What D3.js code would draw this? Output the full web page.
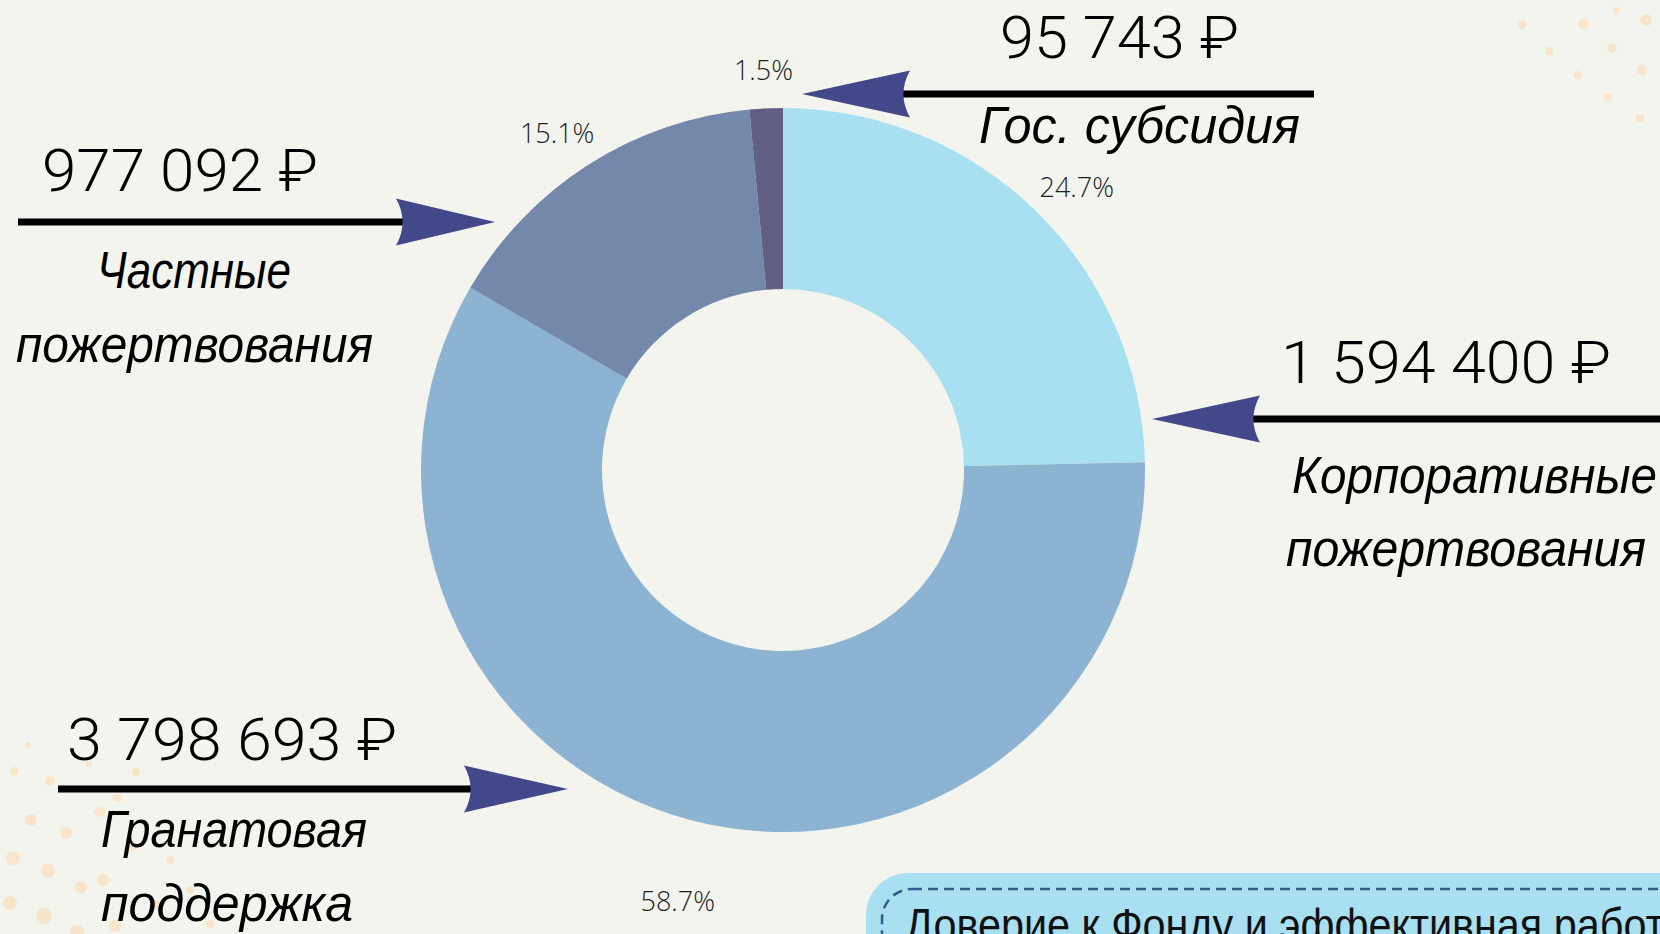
<!DOCTYPE html>
<html><head><meta charset="utf-8">
<script src="https://cdn.jsdelivr.net/npm/d3@7"></script>
<style>
html,body{margin:0;padding:0;background:#f3f4ee;}
svg{display:block;}
</style></head>
<body>
<svg id="chart" width="1660" height="934"></svg>
<script>
// ---- data ----
const categories = ["Корпоративные пожертвования", "Гранатовая поддержка", "Частные пожертвования", "Гос. субсидия"];
const values = [1594400, 3798693, 977092, 95743];
const valueLabels = ["1 594 400 ₽", "3 798 693 ₽", "977 092 ₽", "95 743 ₽"];
const percentLabels = ["24.7%", "58.7%", "15.1%", "1.5%"];
const colors = ["#a8e0f2", "#8cb3d1", "#7388aa", "#625f85"];
const boxTitle = "Доверие к Фонду и эффективная работа";

// ---- layout (annotation callouts) ----
const callouts = [
  {cat:0, num:{x:1281,y:383,w:330}, lines:[{x:1292,y:493,w:365},{x:1286,y:566,w:360}], line:[1249,1660,419], tip:[1152,419], dir:-1, len:108},
  {cat:1, num:{x:67,y:760,w:330}, lines:[{x:101,y:847,w:266},{x:101,y:921,w:252}], line:[58,476,789], tip:[568,789], dir:1, len:104},
  {cat:2, num:{x:42,y:191,w:276}, lines:[{x:97,y:288,w:194},{x:16,y:362,w:357}], line:[18,408,222], tip:[495,222], dir:1, len:99},
  {cat:3, num:{x:1000,y:58,w:239}, lines:[{x:979,y:143,w:321}], line:[898,1314,94], tip:[802,94], dir:-1, len:108}
];
const decorDots = [
  [1522,25,4],[1583,24,5],[1646,20,6],[1549,51,4],[1612,48,5],[1578,75,4],[1642,70,5],[1608,97,4],[1640,118,4],[1616,10,3],
  [14,771,4],[50,781,5],[31,820,6],[66,833,6],[13,858,7],[48,871,7],[81,887,6],[10,903,7],[44,916,8],[77,932,7],[100,812,5],[117,798,4],[136,772,4],[103,880,6],[115,926,6],[28,745,3],[89,764,3],[132,846,5],[155,905,5],[170,860,4],[190,890,4],[210,924,4]
];

const W = 1660, H = 934;
const cx = 783, cy = 470, rOuter = 362, rInner = 181;
const svg = d3.select("#chart");

svg.append("rect").attr("width", W).attr("height", H).attr("fill", "#f3f4ee");

// decorative dots
svg.append("g").selectAll("circle").data(decorDots).join("circle")
  .attr("cx", d => d[0]).attr("cy", d => d[1]).attr("r", d => d[2])
  .attr("fill", "#f8e2c2").attr("opacity", 0.85);

// ---- donut ----
const pie = d3.pie().sort(null).value(d => d)(values);
const arc = d3.arc().innerRadius(rInner).outerRadius(rOuter);
const g = svg.append("g").attr("transform", `translate(${cx},${cy})`);
g.selectAll("path").data(pie).join("path")
  .attr("d", arc)
  .attr("fill", (d, i) => colors[i]);

// percentage labels
g.selectAll("text.pct").data(pie).join("text")
  .attr("class", "pct")
  .attr("x", d => { const a = (d.startAngle + d.endAngle) / 2; return 420 * Math.sin(a); })
  .attr("y", d => { const a = (d.startAngle + d.endAngle) / 2; return -405 * Math.cos(a) + 4 + Math.max(0, -Math.cos(a)) * 36 + Math.max(0, Math.sin(a)) * 3; })
  .attr("text-anchor", "middle")
  .attr("dominant-baseline", "central")
  .attr("font-family", "'Open Sans', sans-serif")
  .attr("font-weight", 300)
  .attr("font-size", 27)
  .attr("fill", "#1e1e1e")
  .text((d, i) => percentLabels[i]);

// ---- callouts ----
const ann = svg.append("g");
callouts.forEach(c => {
  ann.append("line")
    .attr("x1", c.line[0]).attr("x2", c.line[1])
    .attr("y1", c.line[2]).attr("y2", c.line[2])
    .attr("stroke", "#000").attr("stroke-width", 7);
  const [tx, ty] = c.tip, L = c.len, hh = 23.5, notch = 11, d = c.dir;
  const bx = tx - d * L;
  const p = d3.path();
  p.moveTo(tx, ty);
  p.lineTo(bx, ty - hh);
  p.quadraticCurveTo(bx + d * notch * 1.2, ty, bx, ty + hh);
  p.closePath();
  ann.append("path").attr("d", p.toString()).attr("fill", "#42488a");
  ann.append("text")
    .attr("x", c.num.x).attr("y", c.num.y)
    .attr("textLength", c.num.w).attr("lengthAdjust", "spacingAndGlyphs")
    .attr("font-family", "Roboto, 'DejaVu Sans', sans-serif")
    .attr("font-weight", 300)
    .attr("font-size", 60)
    .attr("fill", "#000")
    .text(valueLabels[c.cat]);
  const words = categories[c.cat].split(" ");
  const parts = c.lines.length === 1 ? [categories[c.cat]] : words;
  c.lines.forEach((ln, k) => {
    ann.append("text")
      .attr("x", ln.x).attr("y", ln.y)
      .attr("textLength", ln.w).attr("lengthAdjust", "spacingAndGlyphs")
      .attr("font-family", "'Liberation Sans', Arial, sans-serif")
      .attr("font-style", "italic")
      .attr("font-size", 52)
      .attr("fill", "#000")
      .text(parts[k]);
  });
});

// ---- bottom-right box ----
const box = svg.append("g");
box.append("rect").attr("x", 866).attr("y", 873).attr("width", 900).attr("height", 200)
  .attr("rx", 42).attr("fill", "#a8e0f2");
box.append("rect").attr("x", 882).attr("y", 889).attr("width", 880).attr("height", 180)
  .attr("rx", 30).attr("fill", "none").attr("stroke", "#2f5d8c")
  .attr("stroke-width", 2.5).attr("stroke-dasharray", "10 6");
box.append("text").attr("x", 905).attr("y", 941)
  .attr("textLength", 782).attr("lengthAdjust", "spacingAndGlyphs")
  .attr("font-family", "'Liberation Sans Narrow', 'Liberation Sans', sans-serif")
  .attr("font-size", 47).attr("fill", "#111")
  .text(boxTitle);
</script>
</body></html>
